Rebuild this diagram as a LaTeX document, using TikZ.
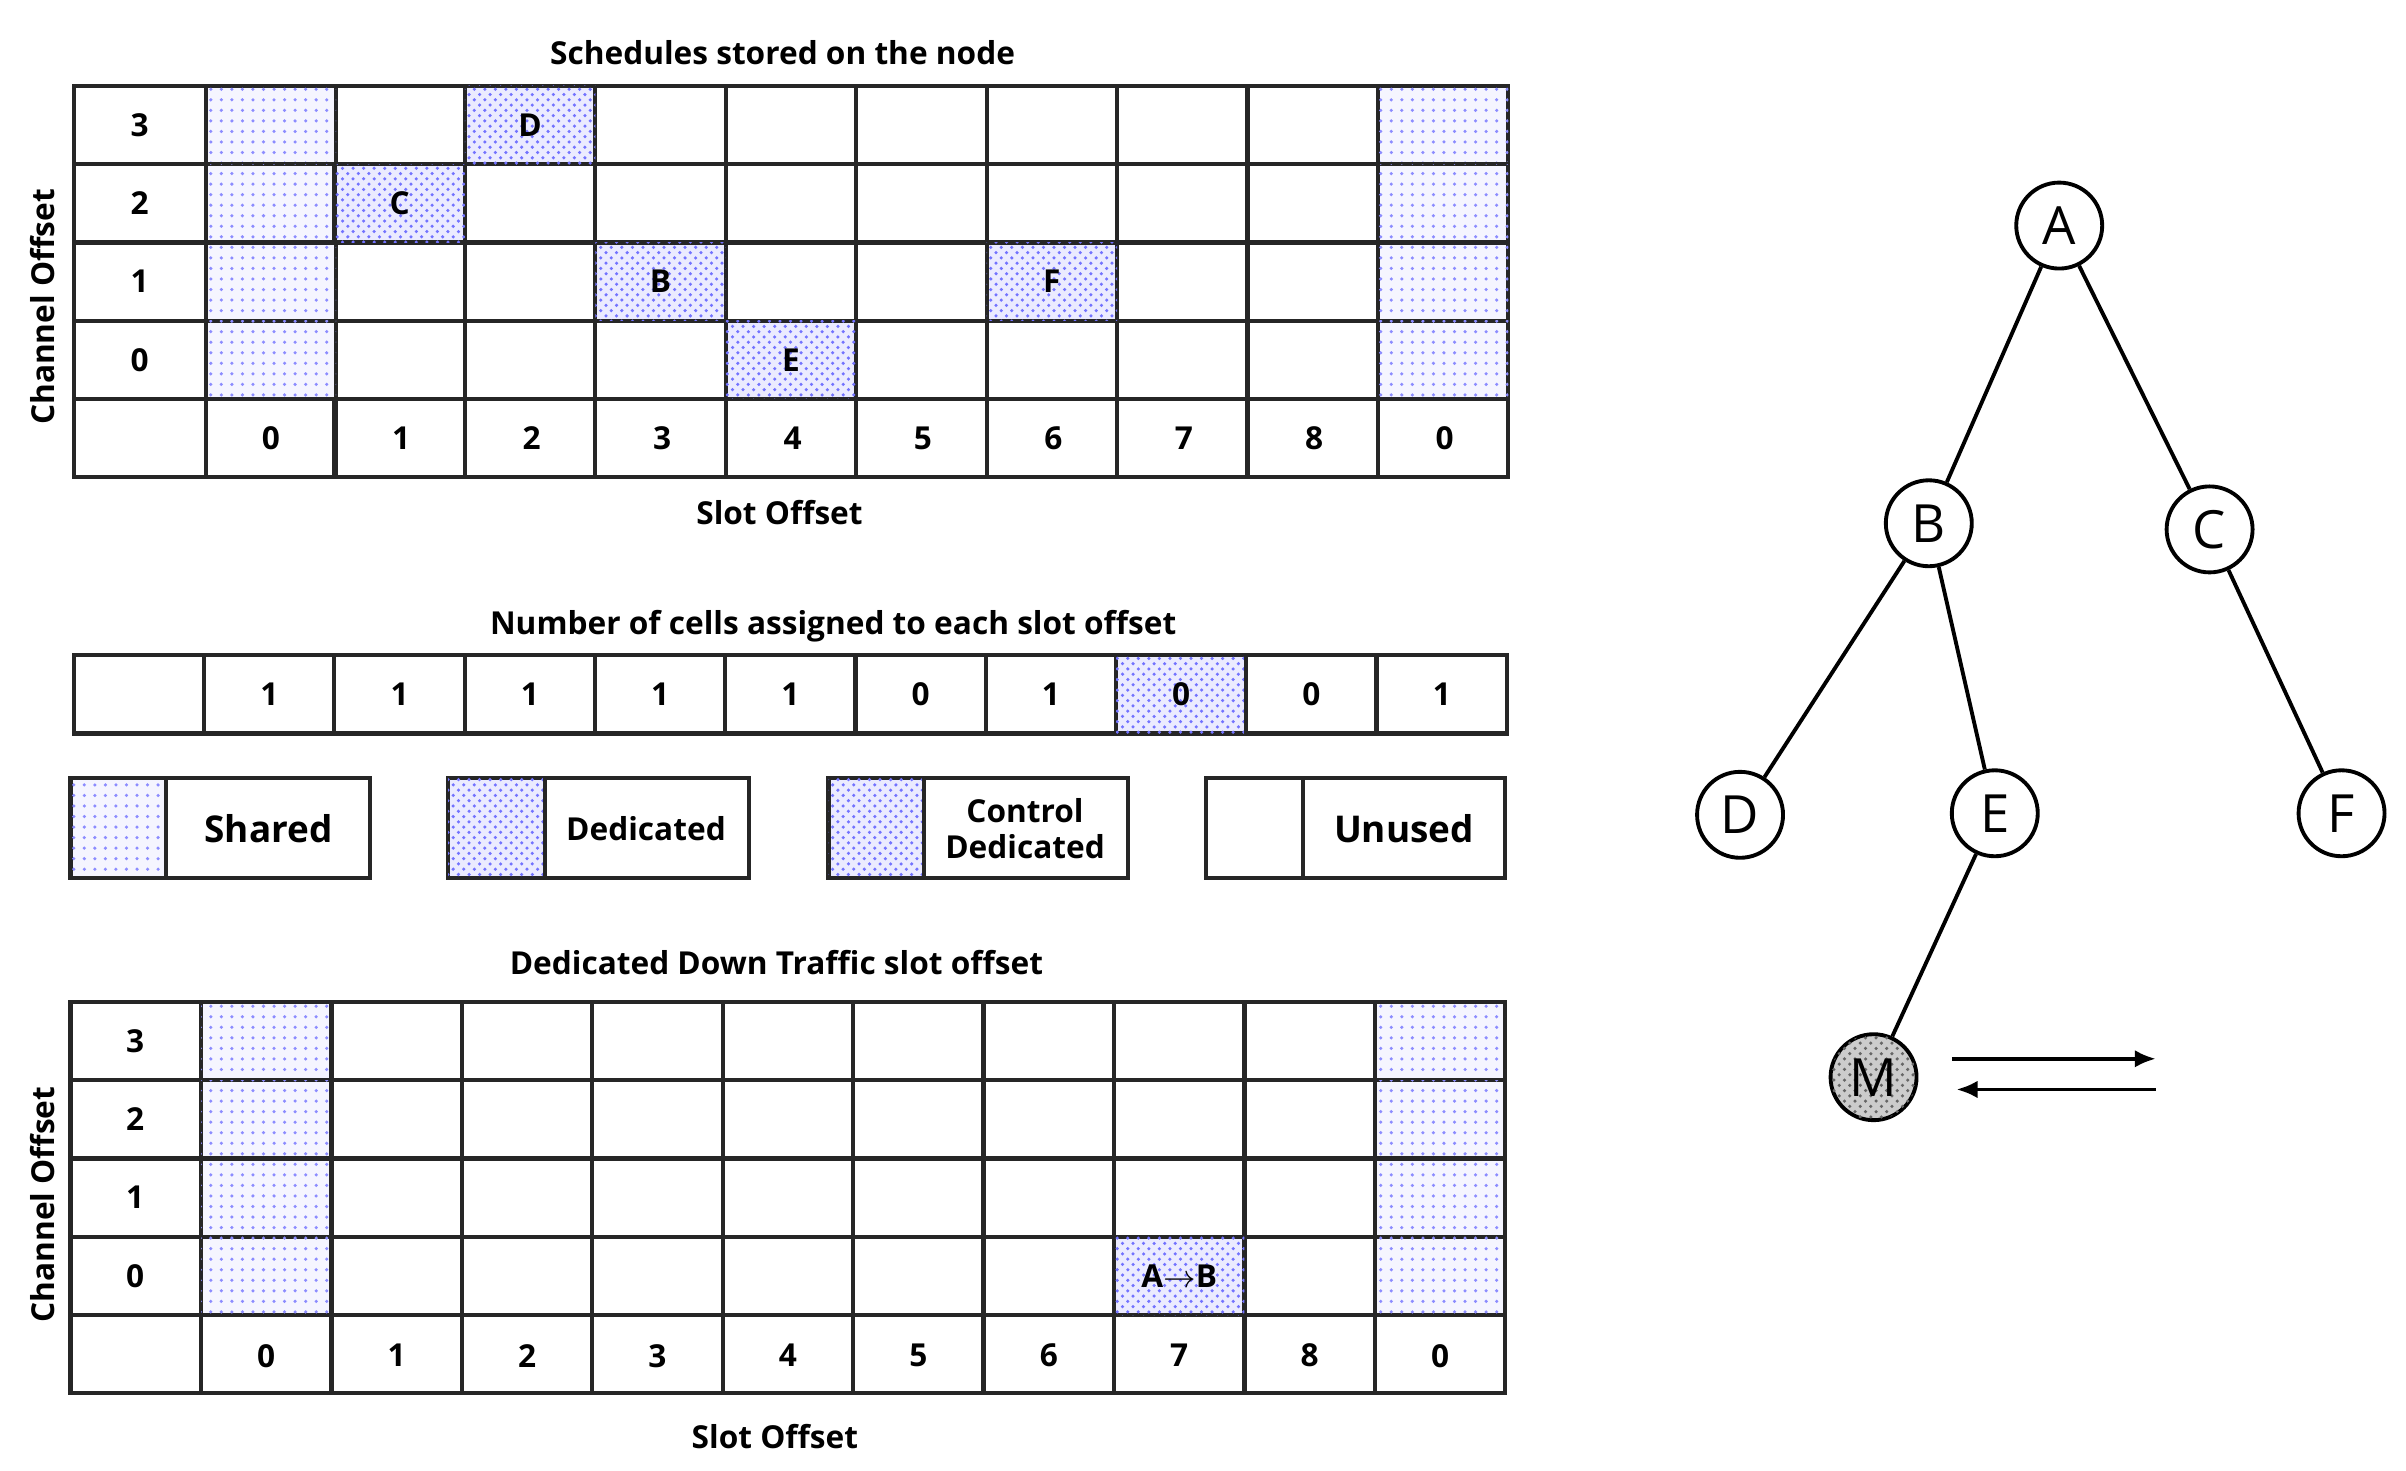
\documentclass[tikz,border=0pt]{standalone}
\usepackage{fontspec}
\setmainfont{Open Sans}
\usetikzlibrary{patterns,arrows.meta}
\tikzset{
  cell/.style={draw=black!85,line width=1.2pt},
  shared/.style={cell,fill=blue!4,postaction={pattern=dots,pattern color=blue!45}},
  dedic/.style={cell,fill=blue!8,postaction={pattern=crosshatch dots,pattern color=blue!55}},
  lbl/.style={font=\fontsize{9}{10}\selectfont\bfseries},
  ttl/.style={font=\fontsize{9}{10}\selectfont\bfseries},
  vertex/.style={circle,draw,line width=1.1pt,minimum size=0.86cm,inner sep=0pt,font=\fontsize{15}{16}\selectfont},
  link/.style={line width=1.1pt}
}
\begin{document}
\begin{tikzpicture}[x=0.015344cm,y=-0.015344cm]
\useasboundingbox (0,0) rectangle (1568,958);
% top schedule table
\node[ttl] (t1) at (510,34) {Schedules stored on the node};
\foreach \c/\x in {0/48,1/134,2/218,3/303,4/388,5/473,6/558,7/643,8/728,9/813,10/898}{
  \pgfmathsetmacro\w{\c==0 ? 86 : 85}
  \foreach \r/\y in {0/56,1/107,2/158,3/209,4/260}{
    \draw[cell] (\x,\y) rectangle ++(\w,51);
  }
}
\foreach \x in {134,898}{\foreach \y in {56,107,158,209}{\draw[shared] (\x,\y) rectangle ++(85,51);}}
\foreach \n/\x/\y in {D/303/56,C/218/107,B/388/158,F/643/158,E/473/209}{
  \draw[dedic] (\x,\y) rectangle ++(85,51);
  \node[lbl] (c\n) at (\x+42.5,\y+25.5) {\n};
}
\foreach \v/\y in {3/56,2/107,1/158,0/209}{\node[lbl] (ta\v) at (91,\y+25.5) {\v};}
\foreach \v [count=\i from 0] in {0,1,2,3,4,5,6,7,8,0}{\node[lbl] (tb\i) at (176.5+\i*85,285.5) {\v};}
\node[ttl] (sx1) at (508,334) {Slot Offset};
\node[ttl,rotate=90] (cy1) at (28,200) {Channel Offset};
% number of cells
\node[ttl] (t2) at (543,408) {Number of cells assigned to each slot offset};
\draw[cell] (48,427) rectangle ++(85,51);
\foreach \v [count=\i from 0] in {1,1,1,1,1,0,1,0,0,1}{
  \ifnum\i=7 \draw[dedic] (133+\i*84.9,427) rectangle ++(84.9,51);
  \else \draw[cell] (133+\i*84.9,427) rectangle ++(84.9,51); \fi
  \node[lbl] (n\i) at (175.5+\i*84.9,452.5) {\v};
}
% legend
\draw[shared] (46,507) rectangle (108,572); \draw[cell] (108,507) rectangle (241,572);
\node[lbl,font=\fontsize{10.5}{11}\selectfont\bfseries] (lg1) at (175,540) {Shared};
\draw[dedic] (292,507) rectangle (355,572); \draw[cell] (355,507) rectangle (488,572);
\node[lbl] (lg2) at (421,540) {Dedicated};
\draw[dedic] (540,507) rectangle (602,572); \draw[cell] (602,507) rectangle (735,572);
\node[lbl,align=center] (lg3) at (668,540) {Control\\Dedicated};
\draw[cell] (786,507) rectangle (849,572); \draw[cell] (849,507) rectangle (981,572);
\node[lbl,font=\fontsize{10.5}{11}\selectfont\bfseries] (lg4) at (915,540) {Unused};
% bottom table
\node[ttl] (t3) at (506,627) {Dedicated Down Traffic slot offset};
\foreach \c/\x in {0/46,1/131,2/216,3/301,4/386,5/471,6/556,7/641,8/726,9/811,10/896}{
  \foreach \y in {653,704,755,806,857}{\draw[cell] (\x,\y) rectangle ++(85,51);}
}
\foreach \x in {131,896}{\foreach \y in {653,704,755,806}{\draw[shared] (\x,\y) rectangle ++(85,51);}}
\draw[dedic] (726,806) rectangle ++(85,51);
\node[lbl] (ab) at (768.5,831.5) {A$\rightarrow$B};
\foreach \v/\y in {3/653,2/704,1/755,0/806}{\node[lbl] (ba\v) at (88,\y+25.5) {\v};}
\foreach \v [count=\i from 0] in {0,1,2,3,4,5,6,7,8,0}{\node[lbl] (bb\i) at (173.5+\i*85,883.5) {\v};}
\node[ttl] (sx2) at (505,936) {Slot Offset};
\node[ttl,rotate=90] (cy2) at (28,785) {Channel Offset};
% tree
\node[vertex] (A) at (1342,147) {A};
\node[vertex] (B) at (1257,341) {B};
\node[vertex] (C) at (1440,345) {C};
\node[vertex] (D) at (1134,531) {D};
\node[vertex] (E) at (1300,530) {E};
\node[vertex] (F) at (1526,530) {F};
\node[vertex,fill=black!20,postaction={pattern=crosshatch dots,pattern color=black!60}] (M) at (1221,702) {M};
\foreach \a/\b in {A/B,A/C,B/D,B/E,C/F,E/M}{\draw[link] (\a) -- (\b);}
\coordinate (r1) at (1272,690); \coordinate (r2) at (1405,690);
\coordinate (l1) at (1405,710); \coordinate (l2) at (1275,710);
\draw[link,-{Latex[length=6pt,width=5pt]}] (r1) -- (r2);
\draw[link,-{Latex[length=6pt,width=5pt]}] (l1) -- (l2);
\end{tikzpicture}
\end{document}
